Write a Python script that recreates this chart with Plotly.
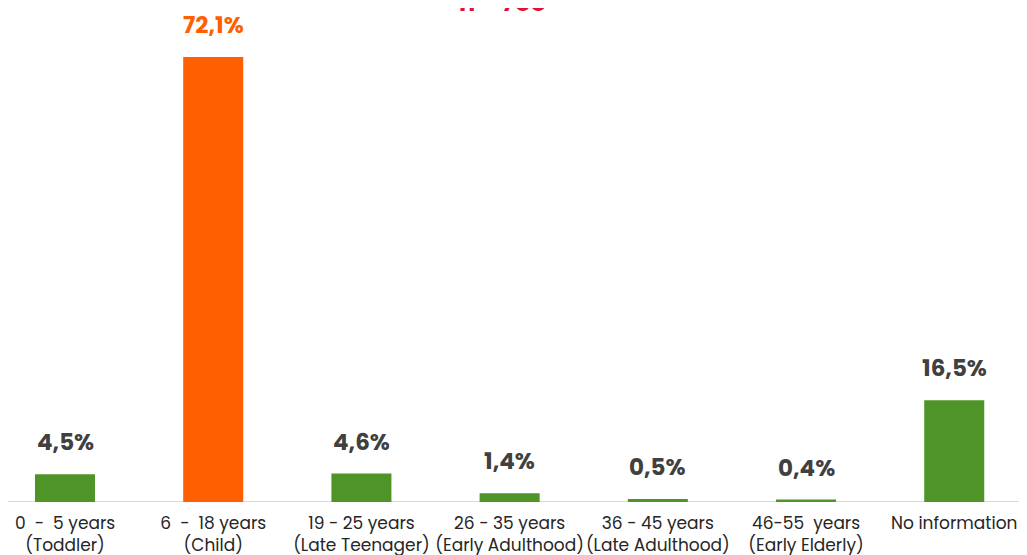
import plotly.graph_objects as go

categories = [
    "0  -  5 years<br>(Toddler)",
    "6  -  18 years<br>(Child)",
    "19 - 25 years<br>(Late Teenager)",
    "26 - 35 years<br>(Early Adulthood)",
    "36 - 45 years<br>(Late Adulthood)",
    "46-55  years<br>(Early Elderly)",
    "No information<br> ",
]
values = [4.5, 72.1, 4.6, 1.4, 0.5, 0.4, 16.5]
labels = ["4,5%", "72,1%", "4,6%", "1,4%", "0,5%", "0,4%", "16,5%"]
title_text = "n = 788"

GREEN = "#4E9426"
ORANGE = "#FF5F00"
colors = [ORANGE if v == max(values) else GREEN for v in values]

fig = go.Figure(
    go.Bar(
        x=list(range(len(categories))),
        y=values,
        marker=dict(color=colors, line=dict(width=0)),
        width=0.405,
        hoverinfo="skip",
    )
)

annotations = [
    dict(
        x=i,
        y=v,
        text=f"<b>{lab}</b>",
        showarrow=False,
        yanchor="bottom",
        yshift=14,
        font=dict(size=23, color=ORANGE if v == max(values) else "#404040"),
    )
    for i, (v, lab) in enumerate(zip(values, labels))
]
annotations.append(
    dict(
        text=f"<b>{title_text}</b>",
        xref="paper",
        yref="paper",
        x=494 / 1019,
        y=1,
        yanchor="middle",
        yshift=6,
        showarrow=False,
        font=dict(size=24, color="#E0103A"),
    )
)

fig.update_layout(
    width=1019,
    height=547,
    margin=dict(l=0, r=0, t=0, b=53, autoexpand=False),
    paper_bgcolor="white",
    plot_bgcolor="white",
    showlegend=False,
    font=dict(family="Poppins, Open Sans, sans-serif", color="#262626"),
    xaxis=dict(
        range=[-0.3846, 6.491],
        tickmode="array",
        tickvals=list(range(len(categories))),
        ticktext=categories,
        tickfont=dict(size=17, color="#262626"),
        tickangle=0,
        ticklabelstandoff=9,
        automargin=False,
        showgrid=False,
        zeroline=False,
        showline=False,
        ticks="",
        fixedrange=True,
    ),
    yaxis=dict(
        range=[0, 80.04],
        visible=False,
        fixedrange=True,
    ),
    shapes=[
        dict(
            type="line",
            xref="paper",
            yref="y",
            x0=0,
            x1=1,
            y0=0,
            y1=0,
            line=dict(color="#D9D9D9", width=2),
            layer="below",
        )
    ],
    annotations=annotations,
)

fig.write_html("out.html")
